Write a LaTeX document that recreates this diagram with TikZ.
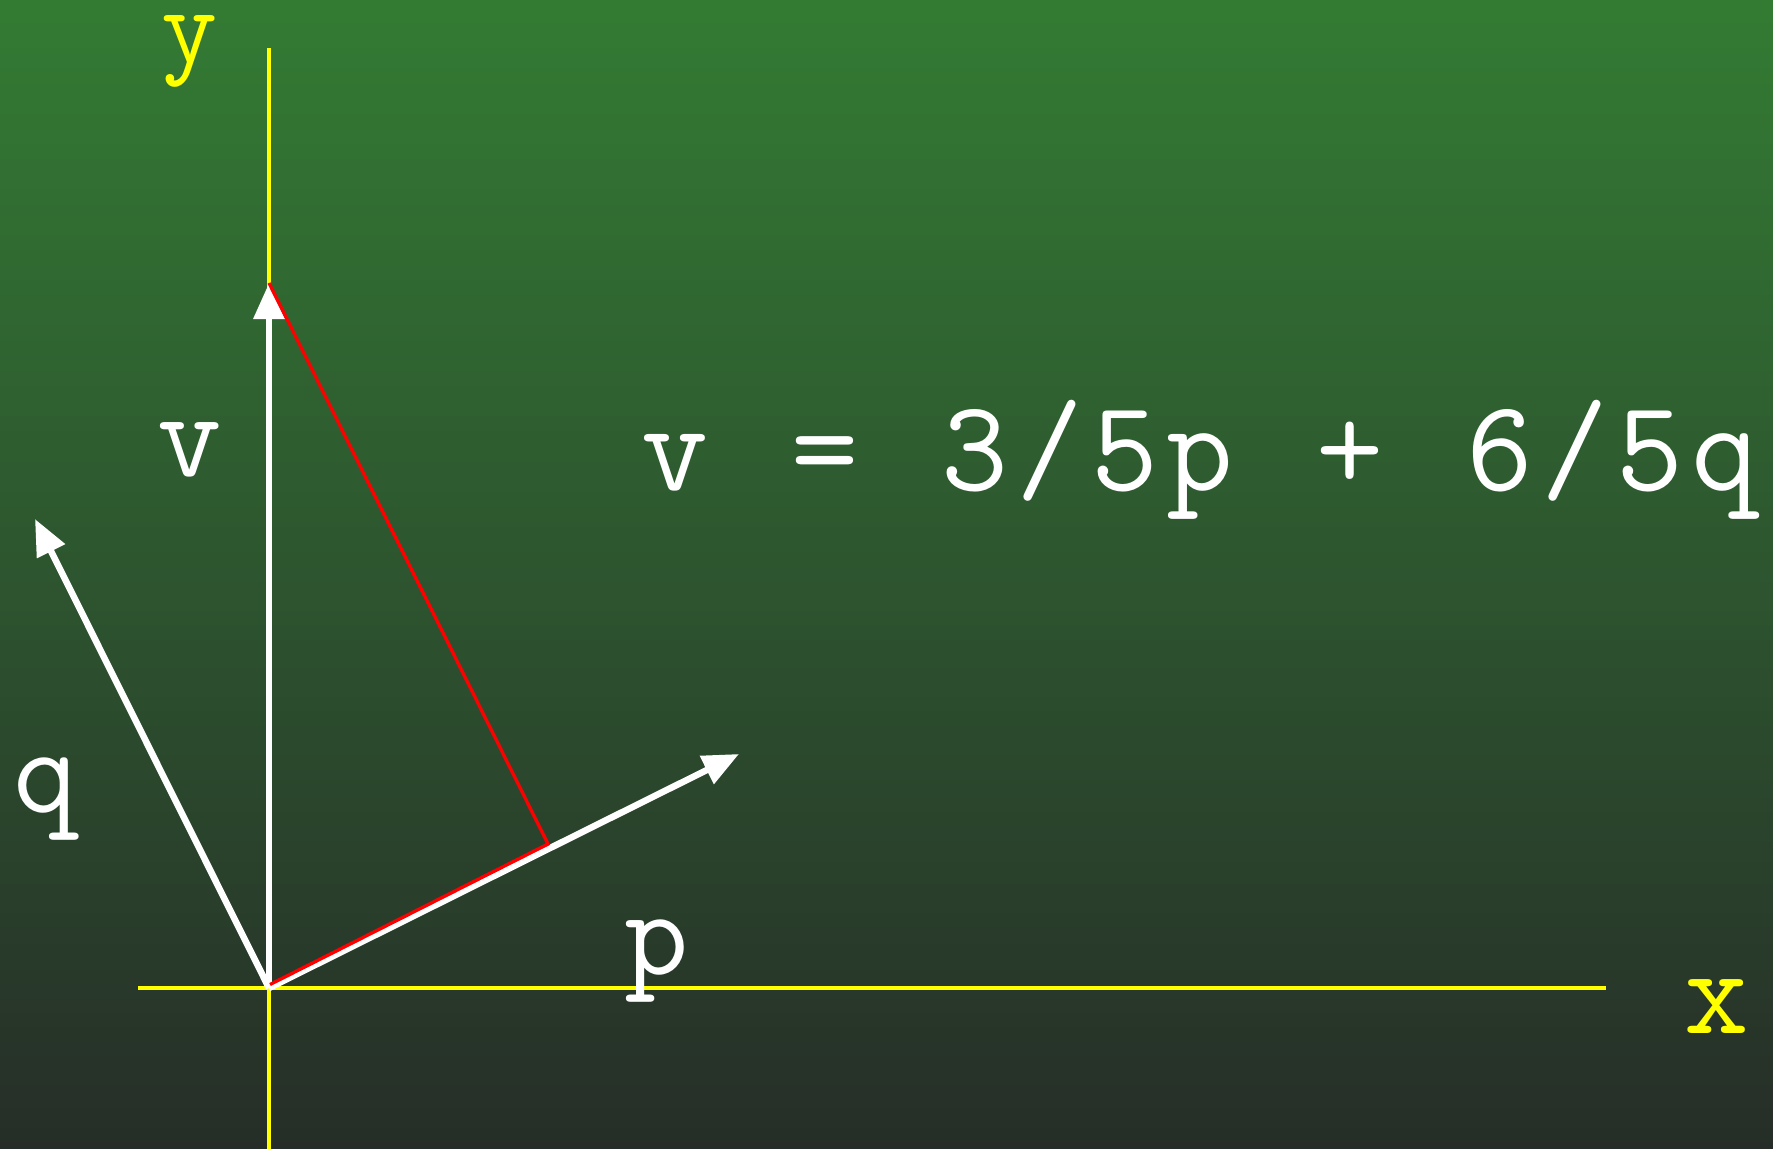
\documentclass[tikz,border=0pt]{standalone}
\usepackage{fontspec}
\usetikzlibrary{arrows.meta}
\definecolor{bgtop}{RGB}{51,123,51}
\definecolor{bgmid}{RGB}{45,85,47}
\definecolor{bgbot}{RGB}{38,45,40}
\definecolor{axisyellow}{RGB}{255,255,0}
\newcommand\cellch[1]{\makebox[0.75cm][c]{#1}}
\tikzset{
  axis/.style={axisyellow, line width=1.1pt},
  vec/.style={white, line width=1.85pt, -{Triangle[length=0.36cm,width=0.30cm]}},
  proj/.style={red, line width=0.95pt, line join=miter},
  lbl/.style={white, font=\ttfamily\fontsize{35.6pt}{40pt}\selectfont, inner sep=0pt, anchor=base},
  axlbl/.style={lbl, axisyellow},
  eqlbl/.style={white, font=\ttfamily\fontsize{37pt}{42pt}\selectfont, inner sep=0pt, anchor=base},
}
\begin{document}
\begin{tikzpicture}[x=0.01cm, y=-0.01cm]
  \useasboundingbox (0,0) rectangle (1773,1149);
  \shade[top color=bgtop, bottom color=bgbot, middle color=bgmid] (0,0) rectangle (1773,1149);
  % axes
  \coordinate (O) at (269,988);
  \coordinate (xl) at (138,988);
  \coordinate (xr) at (1606,988);
  \coordinate (yt) at (269,48);
  \coordinate (yb) at (269,1149);
  \draw[axis] (xl) -- (xr);
  \draw[axis] (yb) -- (yt);
  % vectors
  \coordinate (vt) at (269,283);
  \coordinate (pt) at (739,754);
  \coordinate (qt) at (35,519);
  \draw[vec] (O) -- (vt);
  \draw[vec] (O) -- (qt);
  \draw[vec] (O) -- (pt);
  % projection
  \coordinate (r0) at (270,984.5);
  \coordinate (foot) at (548,844);
  \draw[proj] (r0) -- (foot) -- (vt);
  % labels
  \node[axlbl, font=\ttfamily\fontsize{31pt}{35pt}\selectfont] (ylab) at (190,63) {y};
  \node[axlbl] (xlab) at (1717,1033) {x};
  \node[lbl] (vlab) at (190,476) {v};
  \node[lbl] (qlab) at (46,812) {q};
  \node[lbl] (plab) at (657,974) {p};
  \node[eqlbl] (eq) at (1200,491) {\cellch{v}\cellch{ }\cellch{=}\cellch{ }\cellch{3}\cellch{/}\cellch{5}\cellch{p}\cellch{ }\cellch{+}\cellch{ }\cellch{6}\cellch{/}\cellch{5}\cellch{q}};
\end{tikzpicture}
\end{document}
